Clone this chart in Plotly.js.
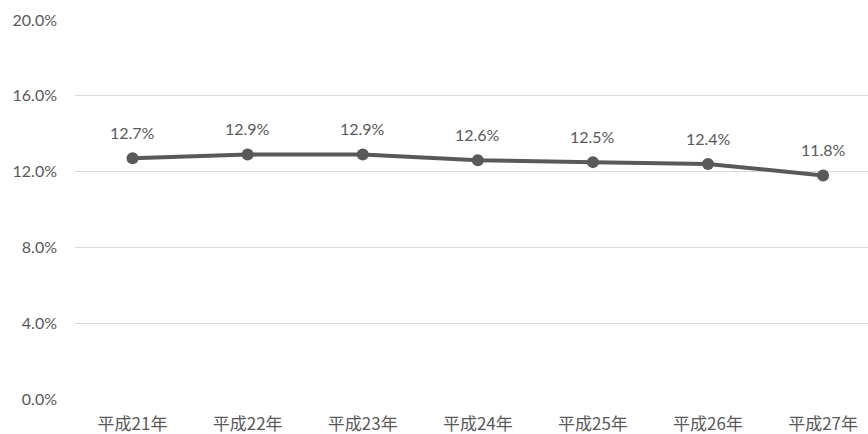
<!DOCTYPE html>
<html>
<head>
<meta charset="utf-8">
<script src="https://cdn.plot.ly/plotly-3.0.1.min.js"></script>
<style>
  html, body { margin: 0; padding: 0; background: #fff; }
  #chart { width: 868px; height: 434px; }
</style>
</head>
<body>
<div id="chart"></div>
<script>
// Yearly rate (%) by Heisei year
const years = ['平成21年', '平成22年', '平成23年', '平成24年', '平成25年', '平成26年', '平成27年'];
const rates = [12.7, 12.9, 12.9, 12.6, 12.5, 12.4, 11.8];
const yTicks = [0, 4, 8, 12, 16, 20];
const yTickText = ['0.0%', '4.0%', '8.0%', '12.0%', '16.0%', '20.0%'];

const idx = years.map((_, i) => i);
const textColor = '#595959';
const numFont = 'Lato, "Noto Sans CJK JP", sans-serif';

const trace = {
  x: idx,
  y: rates,
  type: 'scatter',
  mode: 'lines+markers',
  line: { color: '#595959', width: 4 },
  marker: { color: '#595959', size: 12 },
  hoverinfo: 'skip'
};

const labels = rates.map((v, i) => ({
  x: i,
  y: v,
  text: v.toFixed(1) + '%',
  showarrow: false,
  yshift: 26,
  font: { family: numFont, size: 16, color: textColor }
}));

const layout = {
  width: 868,
  height: 434,
  margin: { l: 75, r: 0, t: 20, b: 35 },
  paper_bgcolor: '#ffffff',
  plot_bgcolor: '#ffffff',
  showlegend: false,
  xaxis: {
    range: [-0.5, 6.39],
    tickvals: idx,
    ticktext: years,
    showgrid: false,
    zeroline: false,
    showline: false,
    ticks: '',
    ticklabelstandoff: 13,
    tickfont: { family: '"Noto Sans CJK JP", sans-serif', size: 17, color: textColor },
    fixedrange: true
  },
  yaxis: {
    range: [0, 20],
    tickvals: yTicks,
    ticktext: yTickText,
    showgrid: true,
    gridcolor: '#d9d9d9',
    gridwidth: 1,
    zeroline: false,
    showline: false,
    ticks: '',
    ticklabelstandoff: 17,
    tickfont: { family: numFont, size: 16, color: textColor },
    fixedrange: true
  },
  annotations: labels
};

Plotly.newPlot('chart', [trace], layout, { displayModeBar: false, staticPlot: true });
</script>
</body>
</html>
